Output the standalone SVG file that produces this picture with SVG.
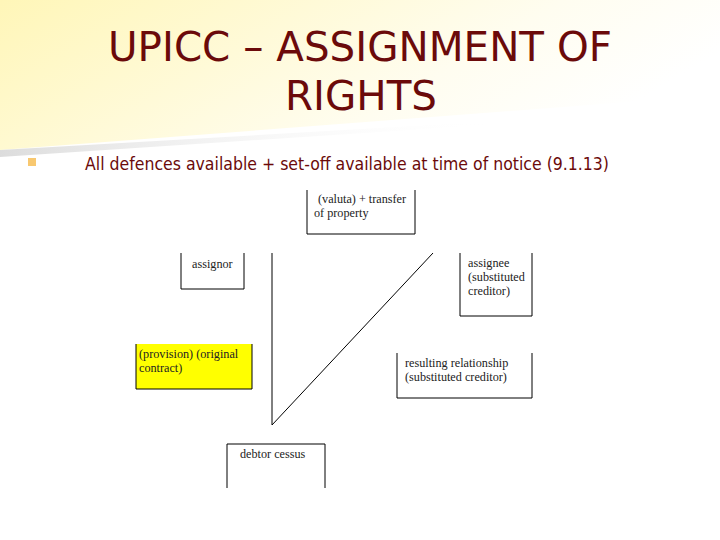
<svg xmlns="http://www.w3.org/2000/svg" width="720" height="540" viewBox="0 0 720 540">
<defs>
<linearGradient id="bg" x1="0" y1="0" x2="1" y2="0.35">
<stop offset="0" stop-color="#fff6b8"/>
<stop offset="0.7" stop-color="#fffdf0"/>
<stop offset="1" stop-color="#ffffff"/>
</linearGradient>
<linearGradient id="sh" x1="0" y1="0" x2="1" y2="0">
<stop offset="0" stop-color="#dcdcdc"/>
<stop offset="1" stop-color="#ffffff" stop-opacity="0"/>
</linearGradient>
<style>
.t{font-family:"DejaVu Sans","Liberation Sans",sans-serif;fill:#6b0a0a}
.n{font-family:"Liberation Serif","Times New Roman",serif;font-size:12.2px;fill:#222}
.b{fill:none;stroke:#000;stroke-width:1}
</style>
</defs>
<rect width="720" height="540" fill="#fff"/>
<polygon points="0,0 720,0 720,95 0,150" fill="url(#bg)"/>
<polygon points="0,150 500,121 500,124 0,157" fill="url(#sh)"/>
<text class="t" x="360" y="61" font-size="41.5" text-anchor="middle" textLength="504" lengthAdjust="spacingAndGlyphs">UPICC – ASSIGNMENT OF</text>
<text class="t" x="361" y="110" font-size="41.5" text-anchor="middle" textLength="152" lengthAdjust="spacingAndGlyphs">RIGHTS</text>
<rect x="28" y="158" width="8" height="8" fill="#f8c870"/>
<text class="t" x="85" y="170" font-size="17.5" textLength="524" lengthAdjust="spacingAndGlyphs">All defences available + set-off available at time of notice (9.1.13)</text>
<g id="connectors">
<polyline class="b" points="272,253 272,425 433,253"/>
</g>
<g id="valuta">
<polyline class="b" points="307,190 307,234 415,234 415,190"/>
<text class="n" x="318" y="203">(valuta) + transfer</text>
<text class="n" x="314" y="217">of property</text>
</g>
<g id="assignor">
<polyline class="b" points="181,253 181,289 244,289 244,253"/>
<text class="n" x="192" y="268">assignor</text>
</g>
<g id="assignee">
<polyline class="b" points="460,253 460,316 532,316 532,253"/>
<text class="n" x="468" y="267">assignee</text>
<text class="n" x="468" y="281">(substituted</text>
<text class="n" x="468" y="295">creditor)</text>
</g>
<g id="provision">
<rect x="136" y="344" width="116" height="45" fill="#ffff00"/>
<polyline class="b" points="136,344 136,389 252,389 252,344"/>
<text class="n" x="139" y="358">(provision) (original</text>
<text class="n" x="139" y="372">contract)</text>
</g>
<g id="resulting">
<polyline class="b" points="397,353 397,398 532,398 532,353"/>
<text class="n" x="405" y="367">resulting relationship</text>
<text class="n" x="405" y="381">(substituted creditor)</text>
</g>
<g id="debtor">
<polyline class="b" points="227,488 227,444 325,444 325,488"/>
<text class="n" x="240" y="458">debtor cessus</text>
</g>
</svg>
